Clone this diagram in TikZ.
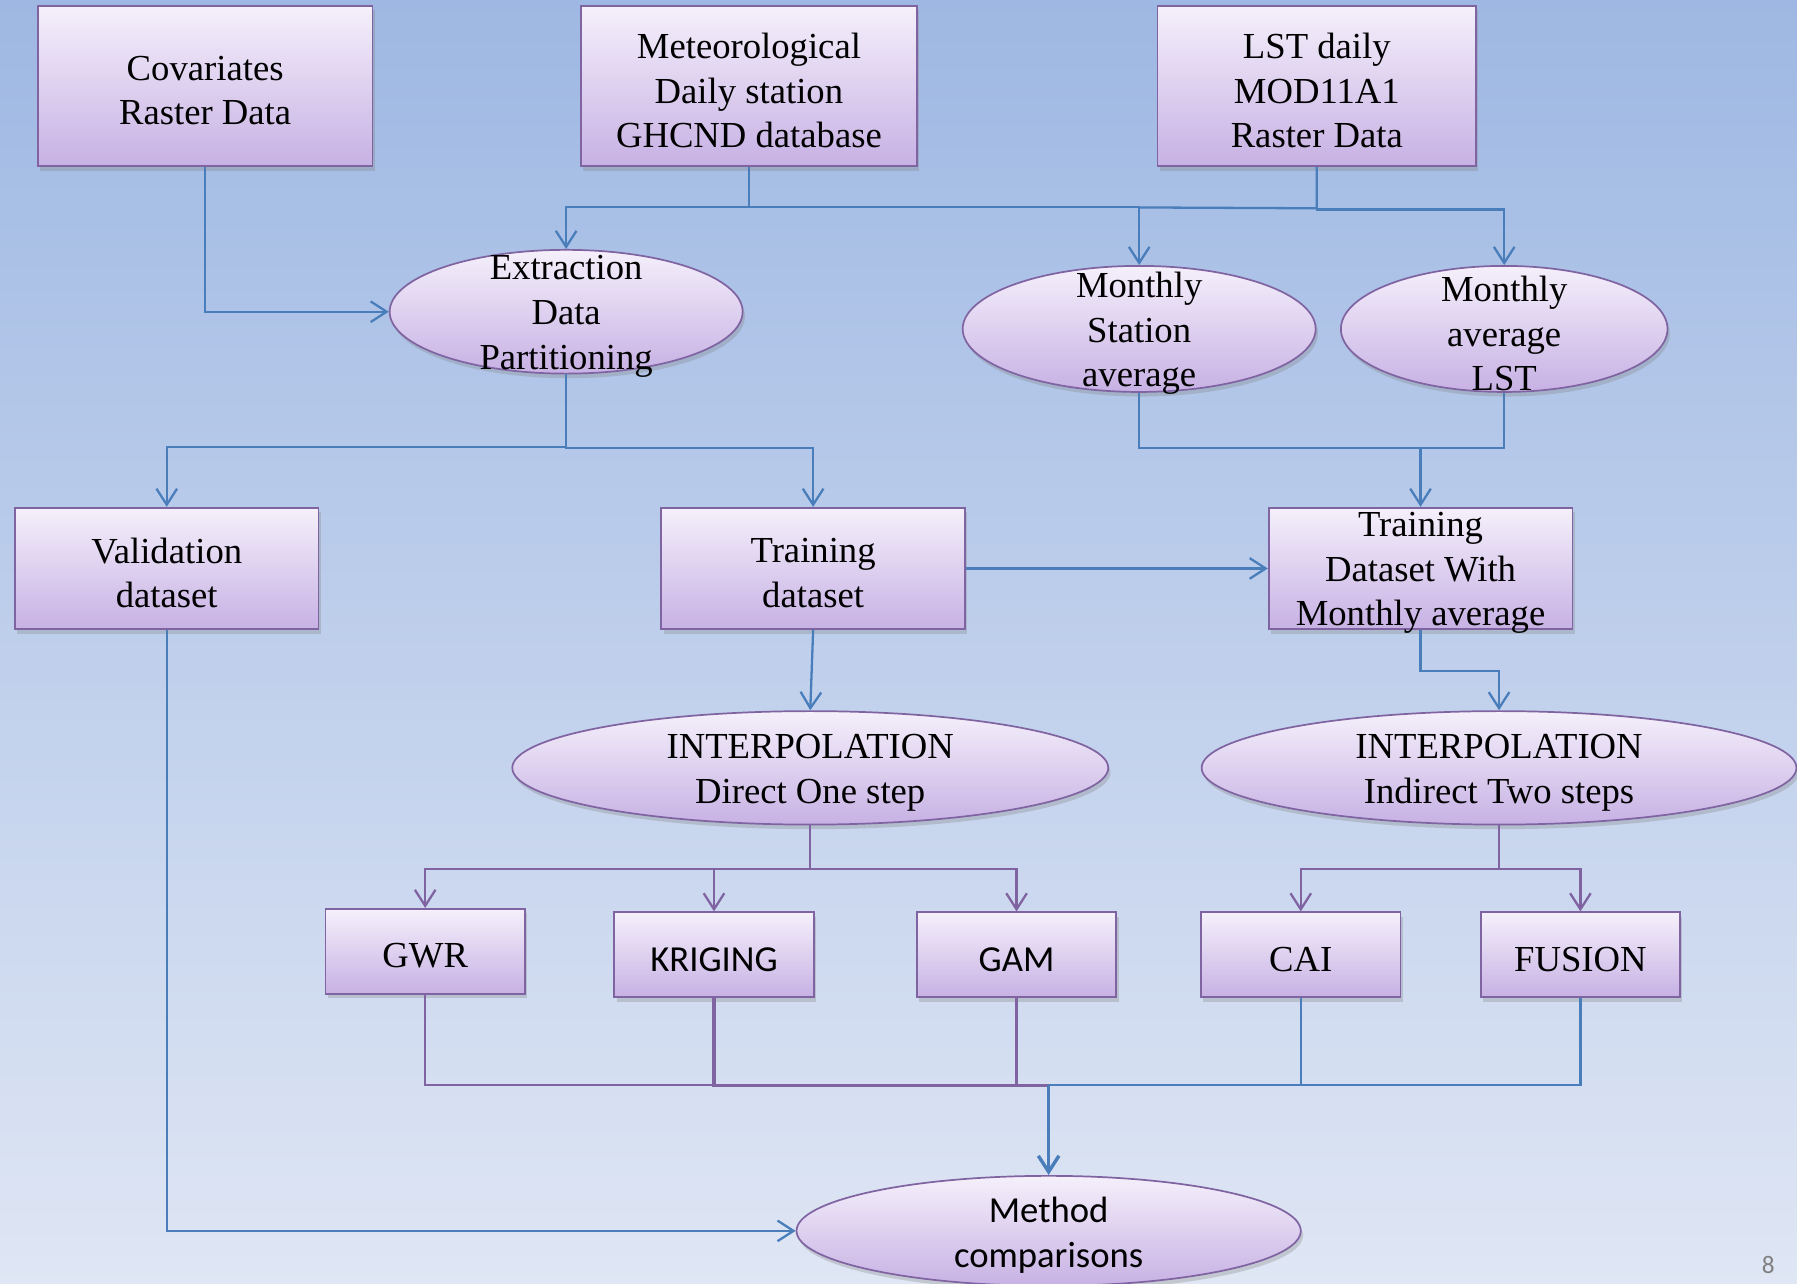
\documentclass[tikz,border=0pt]{standalone}
\usepackage{fontspec}
\setmainfont{Liberation Serif}
\newfontfamily\calibri{Carlito}
\usetikzlibrary{arrows.meta,shadows,shapes.geometric,calc}
\definecolor{bgtop}{RGB}{158,184,227}
\definecolor{bgbot}{RGB}{223,230,244}
\definecolor{boxtop}{RGB}{245,240,251}
\definecolor{boxbot}{RGB}{199,177,228}
\definecolor{boxline}{RGB}{128,100,162}
\definecolor{bline}{RGB}{74,126,187}
\definecolor{pline}{RGB}{128,100,162}
\begin{document}
\begin{tikzpicture}[x=1pt,y=-1pt,
  shp/.style={draw=boxline,line width=1.5pt,top color=boxtop,bottom color=boxbot,
    drop shadow={opacity=0.3,shadow xshift=2pt,shadow yshift=-4pt},inner sep=0pt},
  rbox/.style 2 args={shp,rectangle,minimum width=#1,minimum height=#2},
  ell/.style 2 args={shp,ellipse,minimum width=#1,minimum height=#2},
  txt/.style={align=center,font=\fontsize{32}{39}\selectfont,text=black,inner sep=0pt,yshift=-4pt},
  ctxt/.style={align=center,font=\calibri\fontsize{32}{39}\selectfont,text=black,inner sep=0pt,yshift=-4pt},
  bl/.style={draw=bline,line width=2pt},
  pu/.style={draw=pline,line width=2pt},
  arr/.style={-{Straight Barb[length=14pt,width=18pt]}}
]
\useasboundingbox (0,0) rectangle (1568,1120);
\clip (0,0) rectangle (1568,1120);
\fill[top color=bgtop,bottom color=bgbot] (0,0) rectangle (1568,1120);

% top row
\node[rbox={292pt}{140pt},label={[txt]center:Covariates\\Raster Data}] (cov) at (179,75) {};
\node[rbox={293pt}{140pt},label={[txt]center:Meteorological\\Daily station\\GHCND database}] (met) at (653.5,75) {};
\node[rbox={278pt}{140pt},label={[txt]center:LST daily\\MOD11A1\\Raster Data}] (lst) at (1149,75) {};

% second row ellipses
\node[ell={308pt}{108pt},label={[txt]center:Extraction\\Data\\Partitioning}] (extr) at (494,272) {};
\node[ell={308pt}{110pt},label={[txt]center:Monthly\\Station\\average}] (mst) at (994,287) {};
\node[ell={285pt}{110pt},label={[txt]center:Monthly\\average\\LST}] (mlst) at (1312.5,287) {};

% third row boxes
\node[rbox={265pt}{106pt},label={[txt]center:Validation\\dataset}] (val) at (145.5,496) {};
\node[rbox={265pt}{106pt},label={[txt]center:Training\\dataset}] (train) at (709.5,496) {};
\node[rbox={265pt}{106pt},label={[txt]center:Training\\Dataset With\\Monthly average}] (tm) at (1239.5,496) {};

% interpolation ellipses
\node[ell={520pt}{99pt},label={[txt]center:INTERPOLATION\\Direct One step}] (idir) at (707,670) {};
\node[ell={519pt}{99pt},label={[txt]center:INTERPOLATION\\Indirect Two steps}] (iind) at (1308,670) {};

% methods
\node[rbox={174pt}{74pt},label={[txt]center:GWR}] (gwr) at (371,830) {};
\node[rbox={174pt}{74pt},label={[ctxt]center:KRIGING}] (kri) at (623,833) {};
\node[rbox={174pt}{74pt},label={[ctxt]center:GAM}] (gam) at (887,833) {};
\node[rbox={174pt}{74pt},label={[txt]center:CAI}] (cai) at (1135,833) {};
\node[rbox={174pt}{74pt},label={[txt]center:FUSION}] (fus) at (1379,833) {};

% method comparisons
\node[ell={440pt}{96pt},label={[ctxt]center:Method\\comparisons}] (meth) at (915,1074) {};

\node[font=\calibri\fontsize{22}{26}\selectfont,text=gray] (pg) at (1543,1104) {8};

% connectors top
\draw[bl,arr] (cov.south) |- (extr.west);
\draw[bl,arr] (met.south) -- ++(0,35) -| (extr.north);
\draw[bl,arr] (met.south) -- ++(0,35) -| (mst.north);
\draw[bl] (lst.south) -- ++(0,36) -- (mst.north |- 0,181);
\draw[bl,arr] (lst.south) -- ++(0,37) -| (mlst.north);

% extraction -> validation / training
\draw[bl,arr] (extr.south) -- ++(0,63) -| (val.north);
\draw[bl,arr] (extr.south) -- ++(0,64) -| (train.north);

% monthly averages -> training with monthly
\coordinate (mjoin) at (tm.north |- 0,391);
\draw[bl] (mst.south) |- (mjoin) -| (mlst.south);
\draw[bl,arr] (mjoin) -- (tm.north);

\draw[bl,arr] (train.east) -- (tm.west);
\draw[bl,arr] (train.south) -- (idir.north);
\draw[bl,arr] (tm.south) -- ++(0,36) -| (iind.north);

% interpolation -> methods
\draw[pu,arr] (idir.south) -- ++(0,38) -| (gwr.north);
\draw[pu,arr] (idir.south) -- ++(0,38) -| (kri.north);
\draw[pu,arr] (idir.south) -- ++(0,38) -| (gam.north);
\draw[pu,arr] (iind.south) -- ++(0,38) -| (cai.north);
\draw[pu,arr] (iind.south) -- ++(0,38) -| (fus.north);

% methods -> comparison
\coordinate (join) at (915,947);
\draw[pu] (gwr.south) |- (join);
\draw[pu,line width=3pt] (kri.south) |- (join);
\draw[pu] (gam.south) |- (join);
\draw[bl] (cai.south) |- (join);
\draw[bl] (fus.south) |- (join);
\draw[bl,line width=3pt,arr] (join) -- (meth.north);
\draw[bl,arr] (val.south) |- (meth.west);
\end{tikzpicture}
\end{document}
